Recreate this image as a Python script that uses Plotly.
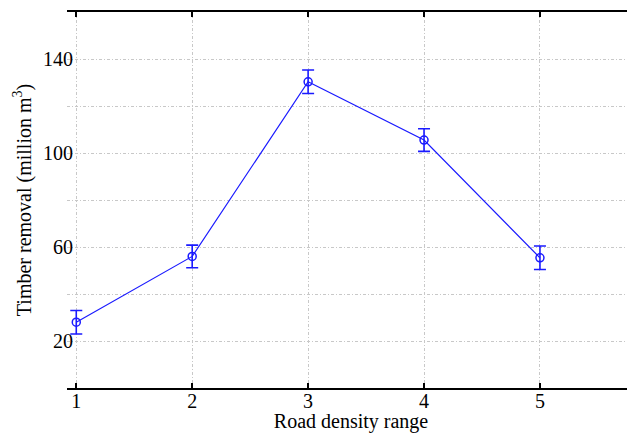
import plotly.graph_objects as go

categories = [1, 2, 3, 4, 5]
timber_removal = [28, 56, 130.3, 105.5, 55.4]
error_values = [5, 4.8, 5, 4.8, 5]
y_grid_values = [20, 40, 60, 80, 100, 120, 140]
y_tick_labels = ["20", "", "60", "", "100", "", "140"]

font_family = "Liberation Serif"
tick_font = dict(family=font_family, size=20, color="black")

fig = go.Figure()
fig.add_trace(go.Scatter(
    x=categories, y=timber_removal,
    mode="lines+markers",
    line=dict(color="#1a1aff", width=1.2),
    marker=dict(symbol="circle-open", size=8, color="#1a1aff", line=dict(width=1.5)),
    error_y=dict(type="data", array=error_values, visible=True, color="#1a1aff", thickness=1.6, width=6),
    showlegend=False,
))

# page body has an 8px default margin, so the figure is sized to fit the window
fig.update_layout(
    width=627, height=425,
    margin=dict(l=59, r=0, t=4, b=45),
    plot_bgcolor="white", paper_bgcolor="white",
    font=dict(family=font_family, size=20, color="black"),
)
fig.update_xaxes(
    range=[0.92, 5.82],
    tickvals=categories,
    ticktext=[str(c) for c in categories],
    tickfont=tick_font,
    automargin=False,
    showgrid=True, gridcolor="#c8c8c8", griddash="3px,2px,1px,2px", gridwidth=1,
    showline=True, linecolor="black", linewidth=1.5, mirror="ticks",
    ticks="inside", ticklen=5, tickcolor="black", tickwidth=1.5,
    ticklabelstandoff=-6,
    zeroline=False,
    title=dict(text="Road density range", font=dict(family=font_family, size=20), standoff=8),
)
fig.update_yaxes(
    range=[0, 160],
    tickvals=y_grid_values,
    ticktext=y_tick_labels,
    tickfont=tick_font,
    automargin=False,
    showgrid=True, gridcolor="#c8c8c8", griddash="3px,2px,1px,2px", gridwidth=1,
    showline=False, zeroline=False, ticks="",
    ticklabelstandoff=-7,
    title=dict(text="Timber removal (million m<sup>3</sup>)", font=dict(family=font_family, size=20), standoff=6),
)

fig.write_html("out.html")
